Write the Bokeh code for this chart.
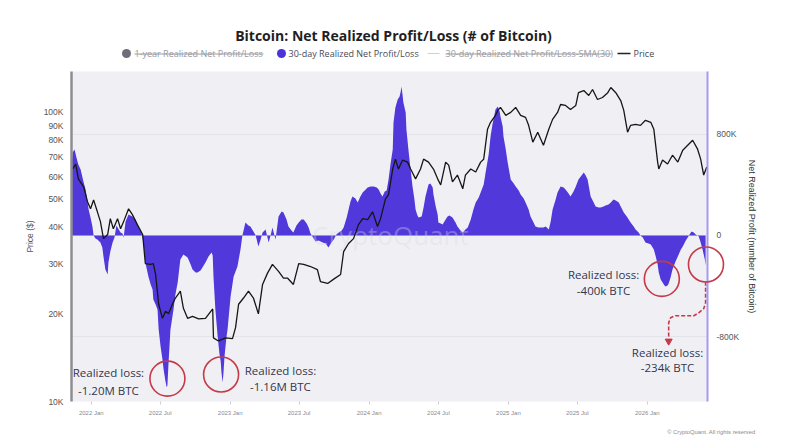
import numpy as np
import pandas as pd
from bokeh.plotting import figure
from bokeh.layouts import column
from bokeh.models import (Range1d, LinearAxis, LinearScale, FixedTicker, Grid, Title,
                          DatetimeTickFormatter)
from bokeh.core.properties import value
from bokeh.embed import file_html
from bokeh.resources import INLINE

START = pd.Timestamp("2021-11-10")

# ---------------- data (days since START) ----------------
price_day = [3, 11, 18, 32, 42, 50, 58, 68, 76, 84, 95, 102, 110, 121, 129, 137, 150, 160, 173, 187,
             194, 208, 215, 221, 229, 239, 247, 255, 265, 273, 286, 294, 305, 318, 334, 352, 371, 373, 386, 405,
             423, 431, 439, 452, 465, 478, 491, 502, 515, 528, 544, 557, 568, 583, 597, 610, 628, 646, 654, 673,
             689, 707, 715, 728, 741, 754, 765, 778, 791, 804, 812, 825, 833, 844, 851, 859, 870, 883, 891, 904,
             917, 925, 938, 951, 962, 970, 983, 991, 1001, 1014, 1028, 1035, 1049, 1062, 1075, 1083, 1093, 1101, 1114, 1120,
             1127, 1141, 1154, 1167, 1180, 1193, 1201, 1212, 1225, 1233, 1240, 1254, 1264, 1277, 1285, 1298, 1311, 1325, 1332, 1346,
             1359, 1369, 1382, 1395, 1409, 1417, 1430, 1443, 1451, 1461, 1469, 1482, 1495, 1508, 1522, 1530, 1540, 1543, 1553, 1566,
             1579, 1593, 1606, 1619, 1632, 1645, 1653, 1661, 1669]
price_k = [63.7, 66.3, 58.9, 55.3, 49.1, 46.4, 49.8, 45.3, 41.9, 36.6, 37.8, 42.9, 39.6, 42.9, 39.6, 41.9, 46.4, 44.3, 40.9, 37.8,
           30.0, 29.8, 30.0, 27.5, 21.7, 19.4, 20.5, 20.1, 21.7, 22.8, 24.1, 21.0, 19.4, 19.7, 19.3, 19.4, 20.9, 16.6, 16.2, 16.6,
           16.5, 18.0, 21.7, 22.8, 24.1, 22.8, 20.1, 25.4, 27.8, 29.8, 28.2, 26.7, 26.7, 25.4, 30.0, 29.8, 29.3, 28.6, 26.0, 25.6,
           26.5, 27.5, 33.0, 35.2, 36.6, 40.9, 42.9, 42.6, 45.3, 40.3, 42.9, 50.2, 51.9, 63.7, 68.9, 63.7, 68.4, 67.3, 63.7, 58.9,
           63.7, 68.9, 67.3, 63.7, 58.9, 56.1, 67.3, 65.7, 57.5, 60.7, 54.4, 60.7, 63.7, 62.2, 67.3, 68.9, 87.4, 92.4, 97.7, 101.6,
           104.0, 97.7, 100.0, 104.0, 97.7, 96.1, 90.2, 78.9, 85.4, 80.8, 77.0, 87.4, 94.6, 100.0, 106.5, 105.7, 102.4, 105.7, 117.0, 119.0,
           114.4, 120.0, 110.8, 112.6, 117.0, 121.9, 117.0, 109.9, 101.6, 85.4, 90.2, 90.9, 90.2, 93.9, 92.4, 87.4, 67.3, 63.7, 68.4, 66.3,
           71.1, 67.3, 74.0, 77.0, 80.1, 74.6, 68.9, 60.7, 64.7]

npl_day = [0, 3, 8, 13, 18, 24, 32, 37, 42, 45, 50, 55, 58, 63, 68, 76, 81, 84, 89, 95,
           97, 102, 108, 113, 118, 124, 129, 134, 137, 142, 150, 160, 168, 176, 184, 189, 194, 202, 208, 213,
           215, 221, 226, 229, 234, 239, 242, 247, 250, 252, 255, 260, 268, 273, 279, 286, 294, 305, 313, 318,
           326, 331, 339, 344, 352, 360, 368, 371, 373, 378, 384, 389, 392, 394, 397, 399, 402, 407, 410, 418,
           426, 436, 444, 449, 457, 465, 470, 478, 484, 491, 497, 502, 510, 518, 523, 528, 536, 544, 552, 557,
           565, 570, 578, 583, 591, 597, 604, 610, 618, 623, 628, 633, 641, 649, 660, 668, 675, 683, 689, 696,
           702, 710, 715, 723, 728, 733, 738, 746, 752, 759, 765, 773, 778, 786, 794, 802, 807, 812, 817, 823,
           828, 833, 838, 844, 846, 851, 857, 862, 865, 867, 870, 872, 878, 880, 886, 891, 896, 901, 904, 909,
           912, 920, 925, 930, 938, 943, 949, 951, 957, 962, 964, 970, 975, 983, 988, 993, 1001, 1009, 1014, 1022,
           1028, 1035, 1041, 1049, 1056, 1062, 1070, 1075, 1083, 1088, 1096, 1101, 1106, 1114, 1120, 1125, 1127, 1133, 1135, 1141,
           1146, 1154, 1162, 1167, 1175, 1180, 1188, 1193, 1201, 1206, 1214, 1219, 1227, 1233, 1240, 1246, 1254, 1259, 1264, 1272,
           1277, 1285, 1293, 1298, 1306, 1311, 1319, 1325, 1332, 1338, 1346, 1351, 1356, 1364, 1372, 1377, 1385, 1390, 1398, 1403,
           1411, 1417, 1424, 1430, 1438, 1443, 1451, 1459, 1464, 1469, 1477, 1482, 1490, 1495, 1501, 1508, 1516, 1522, 1530, 1535,
           1540, 1543, 1548, 1553, 1558, 1561, 1566, 1569, 1574, 1579, 1587, 1593, 1601, 1606, 1614, 1619, 1624, 1629, 1635, 1640,
           1645, 1648, 1653, 1658, 1664, 1666]
npl_k = [561, 656, 679, 616, 561, 521, 419, 363, 269, 205, 142, 71, 0, -24, -32, -55, -95, -166, -269, -308,
         -213, -126, -55, -16, 79, 47, 24, 16, -16, 111, 166, 150, 126, 71, 24, -55, -213, -324, -387, -427,
         -506, -545, -585, -743, -877, -980, -1059, -1153, -1200, -1185, -1003, -743, -585, -466, -371, -190, -150, -174, -229, -269,
         -292, -292, -277, -253, -213, -166, -134, -158, -324, -585, -798, -940, -995, -1082, -1161, -1098, -956, -806, -743, -482,
         -324, -245, -111, 0, 103, 79, 71, 32, 0, -87, -32, 24, 47, -55, 0, 63, -32, 150, 190, 182,
         126, 71, 40, 24, 79, 103, 126, 126, 95, 63, 16, -8, -47, -40, -55, -63, -95, -55, -32, 8,
         24, 40, 63, 142, 205, 269, 308, 292, 261, 308, 340, 363, 379, 387, 387, 379, 363, 332, 308, 348,
         355, 442, 561, 679, 893, 1011, 1074, 1098, 1138, 1177, 1106, 1051, 972, 837, 656, 521, 387, 284, 205, 158,
         142, 150, 221, 308, 403, 411, 379, 324, 229, 166, 103, 95, 87, 126, 150, 158, 142, 103, 71, 40,
         24, 47, 63, 126, 205, 261, 300, 340, 403, 498, 640, 782, 877, 995, 1019, 980, 940, 861, 782, 679,
         577, 442, 411, 387, 355, 324, 292, 261, 205, 150, 103, 71, 63, 63, 63, 71, 47, 111, 205, 284,
         340, 387, 379, 363, 332, 308, 348, 387, 442, 466, 498, 474, 442, 308, 261, 229, 221, 221, 229, 237,
         245, 261, 284, 276, 261, 229, 182, 150, 126, 103, 71, 47, 24, 0, -16, -55, -63, -71, -111, -166,
         -229, -292, -348, -371, -395, -403, -395, -379, -332, -269, -205, -166, -111, -87, -40, -16, 8, 32, 24, 8,
         0, -8, -55, -111, -190, -237]

price_ticks = [10000, 20000, 30000, 40000, 50000, 60000, 70000, 80000, 90000, 100000]
price_tick_labels = ["10K", "20K", "30K", "40K", "50K", "60K", "70K", "80K", "90K", "100K"]
npl_ticks = [-800000, 0, 800000]
npl_tick_labels = ["-800K", "0", "800K"]
x_tick_dates = ["2022-01-01", "2022-07-01", "2023-01-01", "2023-07-01", "2024-01-01",
                "2024-07-01", "2025-01-01", "2025-07-01", "2026-01-01"]

TITLE = "Bitcoin: Net Realized Profit/Loss (# of Bitcoin)"
legend_names = ["1-year Realized Net Profit/Loss", "30-day Realized Net Profit/Loss",
                "30-day Realized Net Profit/Loss-SMA(30)", "Price"]

# callouts: circle centre (day, npl), label centre day, label line y's, amount text
callouts = [
    (252, -1131000, 97, -1083000, -1225000, "-1.20M BTC"),
    (393, -1099000, 549, -1068000, -1194000, "-1.16M BTC"),
    (1551, -343000, 1398, -311000, -437000, "-400k BTC"),
    (1667, -229000, 1566, -926000, -1044000, "-234k BTC"),
]
connector_day = [1666, 1666, 1661, 1648, 1635, 1587, 1574, 1569, 1569]
connector_npl = [-366000, -532000, -579000, -611000, -634000, -634000, -650000, -690000, -815000]

# ---------------- helpers ----------------
def to_dt(days):
    return START + pd.to_timedelta(np.asarray(days, dtype=float), unit="D")

def to_ms(days):
    return (START - pd.Timestamp("1970-01-01")).total_seconds() * 1000.0 + np.asarray(days, dtype=float) * 86400000.0

price_x = to_dt(price_day)
price_y = np.array(price_k) * 1000.0
npl_x = to_dt(npl_day)
npl_y = np.array(npl_k) * 1000.0

RED = "#c63a48"
PURPLE = "#5038db"
TXT = "#33364d"

# ---------------- header (title + legend) ----------------
# header frame is aligned with the main plot frame (71..707 px)
hdr = figure(width=802, height=71, x_range=Range1d(71, 707), y_range=Range1d(71, 0),
             output_backend="svg", toolbar_location=None, min_border=0,
             x_axis_location=None, y_axis_location=None)
hdr.outline_line_color = None
hdr.background_fill_color = "white"
hdr.border_fill_color = "white"
hdr.grid.visible = False

hdr.text(x=[393], y=[35], text=[TITLE], text_align="center", text_baseline="middle",
         text_font=value("Open Sans"), text_font_style="bold", text_font_size="14px",
         text_color="#1f1f24")
LY = 53
hdr.scatter(x=[126, 281], y=[LY, LY], size=9, marker="circle",
            fill_color=["#6e6e78", "#4b33dc"], line_color=None)
hdr.segment(x0=[427], x1=[439], y0=[LY], y1=[LY], line_color="#cfcfd4", line_width=1)
hdr.segment(x0=[617], x1=[630], y0=[LY], y1=[LY], line_color="#222222", line_width=1.5)
hdr.text(x=[134, 288, 445, 633], y=[LY] * 4, text=legend_names,
         text_color=["#9a9aa2", "#4a4a55", "#9a9aa2", "#4a4a55"],
         text_align="left", text_baseline="middle", text_font=value("Open Sans"),
         text_font_size="9px")
hdr.segment(x0=[134, 445], x1=[263, 611], y0=[LY + 0.5] * 2, y1=[LY + 0.5] * 2,
            line_color="#9a9aa2", line_width=1)

# ---------------- main plot ----------------
p = figure(width=802, height=371, x_axis_type="datetime", y_axis_type="log",
           x_range=Range1d(START, START + pd.Timedelta(days=1671)),
           y_range=Range1d(10000, 138500),
           output_backend="svg", toolbar_location=None, title=None,
           min_border_left=71, min_border_right=95, min_border_top=0, min_border_bottom=40)
p.extra_y_ranges = {"npl": Range1d(-1312000, 1296000)}
p.extra_y_scales = {"npl": LinearScale()}
p.background_fill_color = "#f0f0f4"
p.border_fill_color = "white"
p.outline_line_color = None
p.xgrid.visible = False
p.ygrid.visible = False

# left (price) axis
ya = p.yaxis[0]
ya.ticker = FixedTicker(ticks=price_ticks)
ya.major_label_overrides = {t: l for t, l in zip(price_ticks, price_tick_labels)}
ya.minor_tick_line_color = None
ya.major_tick_line_color = None
ya.major_tick_out = 0
ya.major_tick_in = 0
ya.major_label_standoff = 8
ya.major_label_text_font = "Liberation Sans"
ya.major_label_text_font_size = "8.5px"
ya.major_label_text_color = "#555555"
ya.axis_line_color = "#8e8e92"
ya.axis_line_width = 2.5
ya.axis_label = "Price ($)"
ya.axis_label_text_font = "Liberation Sans"
ya.axis_label_text_font_style = "normal"
ya.axis_label_text_font_size = "8.5px"
ya.axis_label_text_color = "#555555"
ya.axis_label_standoff = 6

# bottom axis
xa = p.xaxis[0]
xa.ticker = FixedTicker(ticks=list(to_ms([(pd.Timestamp(d) - START).days for d in x_tick_dates])))
xa.formatter = DatetimeTickFormatter(years="%Y %b", months="%Y %b", days="%Y %b")
xa.axis_line_color = None
xa.minor_tick_line_color = None
xa.major_tick_line_color = "#cfcfd4"
xa.major_tick_out = 3
xa.major_tick_in = 0
xa.major_label_standoff = 5
xa.major_label_text_font = "Liberation Sans"
xa.major_label_text_font_size = "6px"
xa.major_label_text_color = "#8a8a90"

# right (npl) axis
ra = LinearAxis(y_range_name="npl", ticker=FixedTicker(ticks=npl_ticks))
ra.major_label_overrides = {t: l for t, l in zip(npl_ticks, npl_tick_labels)}
ra.minor_tick_line_color = None
ra.major_tick_line_color = None
ra.major_tick_out = 0
ra.major_tick_in = 0
ra.major_label_standoff = 9
ra.major_label_text_font = "Liberation Sans"
ra.major_label_text_font_size = "8.5px"
ra.major_label_text_color = "#555555"
ra.axis_line_color = "#a898f2"
ra.axis_line_width = 2
ra.axis_label = "Net Realized Profit (number of Bitcoin)"
ra.axis_label_text_font = "Liberation Sans"
ra.axis_label_text_font_style = "normal"
ra.axis_label_text_font_size = "9px"
ra.axis_label_text_color = "#333333"
ra.axis_label_standoff = 5
p.add_layout(ra, "right")

p.add_layout(Grid(dimension=1, ticker=FixedTicker(ticks=npl_ticks), y_range_name="npl",
                  grid_line_color="#e3e3e9", grid_line_width=1))

# series
p.varea(x=npl_x, y1=0, y2=npl_y, y_range_name="npl", fill_color=PURPLE, fill_alpha=1.0)
p.text(x=[to_dt([838])[0]], y=[0], text=["CryptoQuant"], y_range_name="npl",
       text_font=value("Open Sans"), text_font_size="26px", text_color="#d8d8e2", text_alpha=0.35,
       text_align="center", text_baseline="middle")
p.line(price_x, price_y, line_color="#161616", line_width=1.3)

# callouts
for cday, cnpl, tday, ty1, ty2, txt in callouts:
    rc = p.scatter(x=[to_dt([cday])[0]], y=[cnpl], y_range_name="npl", marker="circle", size=35,
                   fill_alpha=0, line_color=RED, line_width=1.6)
    rc.level = "overlay"
    r1 = p.text(x=[to_dt([tday])[0]] * 2, y=[ty1, ty2], text=["Realized loss:", txt], y_range_name="npl",
                text_font=value("Open Sans"), text_font_size="11.5px", text_color=TXT,
                text_align="center", text_baseline="middle")
    r1.level = "overlay"

p.line(to_dt(connector_day), connector_npl, y_range_name="npl", line_color=RED, line_width=1.6,
       line_dash="4 2")
p.scatter(x=[to_dt([1569])[0]], y=[-835000], y_range_name="npl", marker="inverted_triangle",
          size=7, fill_color=RED, line_color=RED)

# footer credit
p.add_layout(Title(text="\u00a9 CryptoQuant. All rights reserved", align="right", offset=-48,
                   text_font="Liberation Sans", text_font_size="5.8px", text_font_style="normal",
                   text_color="#8a8a90", standoff=16), "below")

lay = column(hdr, p, spacing=0)
open("out.html", "w").write(file_html(lay, INLINE))
